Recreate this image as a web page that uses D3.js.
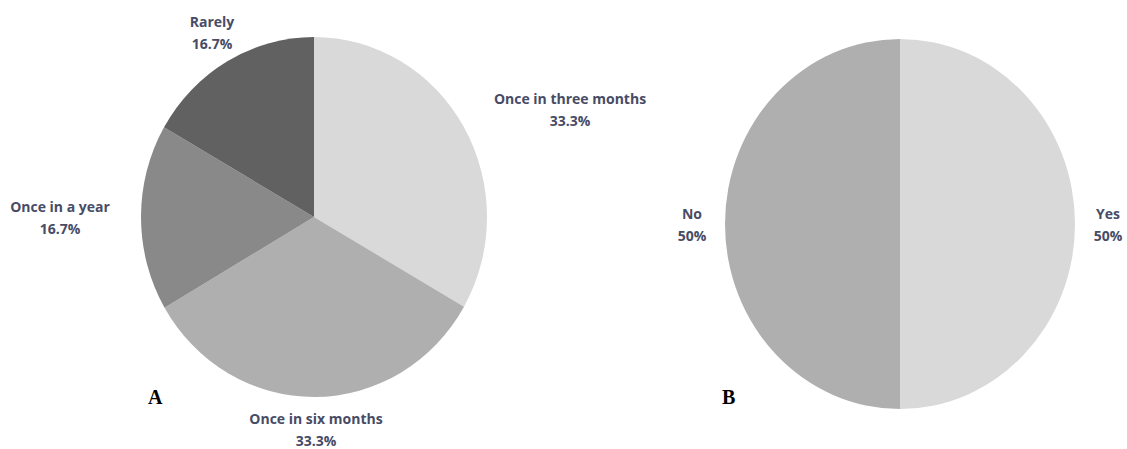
<!DOCTYPE html>
<html>
<head>
<meta charset="utf-8">
<script src="https://cdn.jsdelivr.net/npm/d3@7"></script>
<style>
  html, body { margin: 0; padding: 0; background: #ffffff; }
  svg { display: block; }
</style>
</head>
<body>
<svg id="chart" width="1127" height="449"></svg>
<script>
// Panel A: how often the check is done
const freqCategories = ["Once in three months", "Once in six months", "Once in a year", "Rarely"];
const freqValues = [33.3, 33.3, 16.7, 16.7];
const freqLabels = ["33.3%", "33.3%", "16.7%", "16.7%"];
const freqColors = ["#d9d9d9", "#afafaf", "#898989", "#616161"];

// Panel B: yes / no answer
const ynCategories = ["Yes", "No"];
const ynValues = [50, 50];
const ynLabels = ["50%", "50%"];
const ynColors = ["#d9d9d9", "#afafaf"];

const svg = d3.select("#chart");
const textColor = "#474c66";
const labelFont = "'Open Sans', 'Noto Sans', sans-serif";

function drawPie(cfg) {
  const data = cfg.categories.map((c, i) => ({ cat: c, value: cfg.values[i], label: cfg.labels[i], color: cfg.colors[i] }));
  const pie = d3.pie().sort(null).value(d => d.value).startAngle(0).endAngle(2 * Math.PI);
  const arc = d3.arc().innerRadius(0).outerRadius(cfg.ry);

  const g = svg.append("g")
    .attr("transform", `translate(${cfg.cx},${cfg.cy}) scale(${cfg.rx / cfg.ry},1)`);

  g.selectAll("path")
    .data(pie(data))
    .join("path")
    .attr("d", arc)
    .attr("fill", d => d.data.color);

  const lg = svg.append("g");
  data.forEach(d => {
    const p = cfg.labelPos[d.cat];
    const t = lg.append("text")
      .attr("x", p[0])
      .attr("y", p[1])
      .attr("text-anchor", "middle")
      .attr("font-family", labelFont)
      .attr("font-weight", 700)
      .attr("font-size", 14)
      .attr("fill", textColor);
    t.append("tspan").attr("x", p[0]).attr("dy", 0).text(d.cat);
    t.append("tspan").attr("x", p[0]).attr("dy", 22).text(d.label);
  });

  svg.append("text")
    .attr("x", cfg.tag[0])
    .attr("y", cfg.tag[1])
    .attr("font-family", "'Liberation Serif', 'Times New Roman', serif")
    .attr("font-weight", "bold")
    .attr("font-size", 20)
    .attr("fill", "#000")
    .text(cfg.tagText);
}

drawPie({
  categories: freqCategories, values: freqValues, labels: freqLabels, colors: freqColors,
  cx: 314, cy: 217, rx: 173, ry: 180,
  labelPos: {
    "Once in three months": [570, 104],
    "Once in six months": [316, 424],
    "Once in a year": [60, 212],
    "Rarely": [212, 27]
  },
  tag: [148, 404], tagText: "A"
});

drawPie({
  categories: ynCategories, values: ynValues, labels: ynLabels, colors: ynColors,
  cx: 900, cy: 224, rx: 175, ry: 185,
  labelPos: {
    "Yes": [1108, 219],
    "No": [692, 219]
  },
  tag: [722, 404], tagText: "B"
});
</script>
</body>
</html>
